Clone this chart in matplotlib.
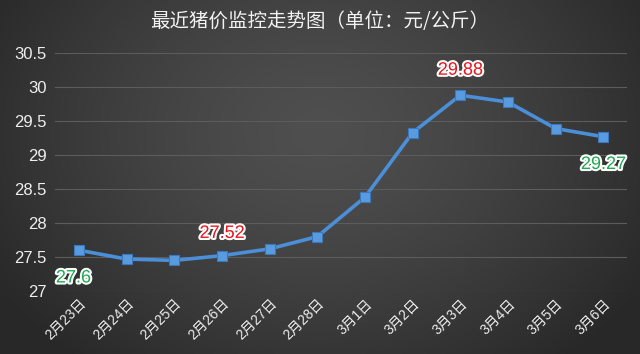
import matplotlib.pyplot as plt
import matplotlib.patheffects as pe
import numpy as np

plt.rcParams['font.family'] = ['Liberation Sans', 'Noto Sans CJK SC', 'DejaVu Sans']

dates = ["2月23日", "2月24日", "2月25日", "2月26日", "2月27日", "2月28日",
         "3月1日", "3月2日", "3月3日", "3月4日", "3月5日", "3月6日"]
prices = [27.6, 27.47, 27.45, 27.52, 27.62, 27.8, 28.38, 29.33, 29.88, 29.78, 29.39, 29.27]
# (index, colour, offset in points)
callouts = [(0, "#1fa84f", (-4, -20)), (3, "#e8141c", (0, 16)),
            (8, "#e8141c", (0, 18)), (11, "#1fa84f", (0, -20))]
yticks = [27, 27.5, 28, 28.5, 29, 29.5, 30, 30.5]

fig = plt.figure(figsize=(6.4, 3.54), dpi=100)

# dark radial background, lighter in the middle
bg = fig.add_axes([0, 0, 1, 1])
yy, xx = np.mgrid[-1:1:200j, -1:1:360j]
r = np.clip(np.sqrt((xx * 0.85) ** 2 + (yy * 0.6 + 0.15) ** 2), 0, 1)
g = 0.31 - 0.15 * r ** 1.4
bg.imshow(np.dstack([g, g, g]), aspect="auto", extent=[0, 1, 0, 1])
bg.axis("off")

ax = fig.add_axes([0.086, 0.178, 0.894, 0.672])
ax.patch.set_alpha(0)
x = np.arange(len(dates))
ax.plot(x, prices, color="#4a8fd8", lw=2.6, marker="s", ms=7,
        mfc="#5a9be0", mec="#3a78c0", mew=0.8, zorder=3)

for i, c, off in callouts:
    ax.annotate(f"{prices[i]:g}", (x[i], prices[i]), xytext=off, textcoords="offset points",
                ha="center", va="center", fontsize=13, color=c,
                path_effects=[pe.withStroke(linewidth=3, foreground="white")])

ax.set_xlim(-0.5, len(dates) - 0.5)
ax.set_ylim(27, 30.5)
ax.set_yticks(yticks)
ax.set_yticklabels([f"{v:g}" for v in yticks])
ax.set_xticks(x)
ax.set_xticklabels(dates, rotation=45, ha="right", rotation_mode="anchor")
ax.grid(axis="y", color="#5c5c5c", lw=0.8)
ax.set_axisbelow(True)
for s in ax.spines.values():
    s.set_visible(False)
ax.tick_params(axis="y", length=0, colors="#eeeeee", labelsize=12, pad=6)
ax.tick_params(axis="x", length=0, colors="#eeeeee", labelsize=10, pad=4)

fig.text(0.5, 0.94, "最近猪价监控走势图（单位：元/公斤）", ha="center", va="center",
         fontsize=14, color="#f2f2f2", family=["Noto Sans CJK SC", "DejaVu Sans"])

fig.savefig("out.png", dpi=100)
